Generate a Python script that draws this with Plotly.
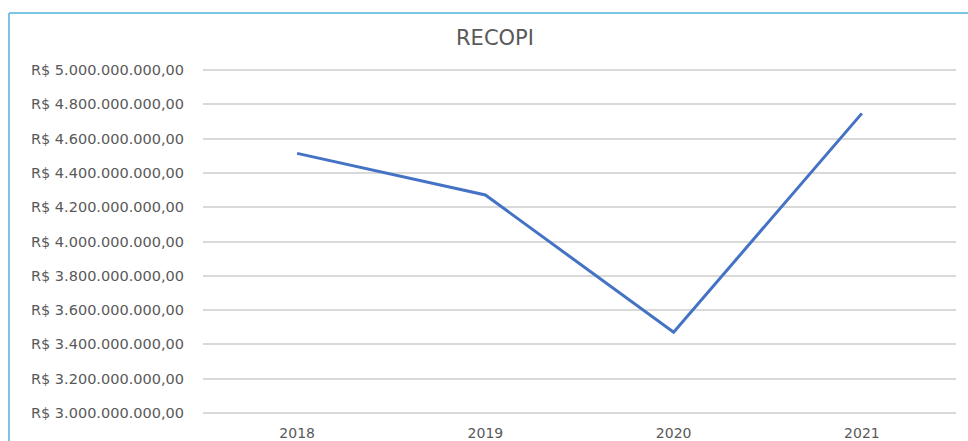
import plotly.graph_objects as go

years = ["2018", "2019", "2020", "2021"]
values = [4.514e9, 4.271e9, 3.471e9, 4.747e9]
tick_vals = [3.0e9, 3.2e9, 3.4e9, 3.6e9, 3.8e9, 4.0e9, 4.2e9, 4.4e9, 4.6e9, 4.8e9, 5.0e9]
tick_text = [
    "R$ 3.000.000.000,00", "R$ 3.200.000.000,00", "R$ 3.400.000.000,00",
    "R$ 3.600.000.000,00", "R$ 3.800.000.000,00", "R$ 4.000.000.000,00",
    "R$ 4.200.000.000,00", "R$ 4.400.000.000,00", "R$ 4.600.000.000,00",
    "R$ 4.800.000.000,00", "R$ 5.000.000.000,00",
]

W, H = 968, 441
PADPX = 2
ml, mr, mt, mb = 203, 12, 70 - PADPX, 28 - PADPX
pw, ph = W - ml - mr, H - mt - mb
per_px = (tick_vals[-1] - tick_vals[0]) / (ph - 2 * PADPX)
y_range = [tick_vals[0] - PADPX * per_px, tick_vals[-1] + PADPX * per_px]

fig = go.Figure()
fig.add_trace(go.Scatter(
    x=years, y=values, mode="lines",
    line=dict(color="#4472C4", width=3),
    hoverinfo="x+y",
))


def px_x(px):
    return (px - ml) / pw


def px_y(py):
    return 1 - (py - mt) / ph


fig.update_layout(
    width=W, height=H,
    margin=dict(l=ml, r=mr, t=mt, b=mb, pad=0, autoexpand=False),
    paper_bgcolor="white", plot_bgcolor="white",
    showlegend=False,
    font=dict(family="DejaVu Sans", color="#595959", size=14),
    title=dict(text="RECOPI", x=495 / W, xanchor="center",
               y=1 - 38 / H, yanchor="middle",
               font=dict(family="DejaVu Sans", size=21, color="#595959")),
    xaxis=dict(type="category", range=[-0.5, 3.5], showgrid=False,
               showline=False, zeroline=False, ticks="",
               automargin=False, ticklabelstandoff=8,
               tickfont=dict(size=14, color="#595959")),
    yaxis=dict(range=y_range, tickvals=tick_vals, ticktext=tick_text,
               showgrid=True, gridcolor="#D9D9D9", gridwidth=1.5,
               zeroline=False, showline=False, ticks="",
               automargin=False, ticklabelstandoff=18,
               tickfont=dict(size=14.5, color="#595959")),
    shapes=[
        dict(type="line", xref="paper", yref="paper",
             x0=px_x(9), x1=px_x(W + 10), y0=px_y(13), y1=px_y(13),
             line=dict(color="#7CC4E4", width=2)),
        dict(type="line", xref="paper", yref="paper",
             x0=px_x(9), x1=px_x(9), y0=px_y(13), y1=px_y(H + 10),
             line=dict(color="#7CC4E4", width=2)),
    ],
)

fig.write_html("out.html", config={"displayModeBar": False},
               post_script="document.body.style.margin='0';")
